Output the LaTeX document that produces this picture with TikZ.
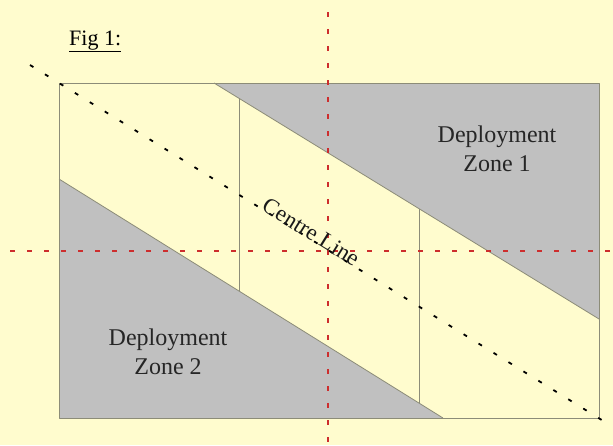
\documentclass[tikz,border=0pt]{standalone}
\usepackage{fontspec}
\setmainfont{Liberation Serif}
\definecolor{paper}{RGB}{255,252,206}
\definecolor{zone}{RGB}{192,192,192}
\definecolor{edge}{RGB}{140,140,120}
\definecolor{axisred}{RGB}{205,45,45}
\begin{document}
\begin{tikzpicture}[x=1pt, y=-1pt, line join=round,
    zonetext/.style={align=center, font=\fontsize{24}{29}\selectfont, text=black!85},
    redaxis/.style={axisred, line width=2.2pt, dash pattern=on 5pt off 12pt},
    centreline/.style={black, line width=1.8pt, dash pattern=on 4pt off 13.6pt}]
    \def\xl{59} \def\xr{599} \def\yt{83} \def\yb{418}
    \fill[paper] (0,0) rectangle (613,445);
    \useasboundingbox (0,0) rectangle (613,445);
    % table and deployment zones
    \coordinate (tl) at (\xl,\yt); \coordinate (tr) at (\xr,\yt);
    \coordinate (br) at (\xr,\yb); \coordinate (bl) at (\xl,\yb);
    \fill[zone] (214,\yt) -- (tr) -- (\xr,319) -- cycle;
    \fill[zone] (\xl,179) -- (443,\yb) -- (bl) -- cycle;
    \draw[edge, line width=0.8pt] (tl) rectangle (br);
    \draw[edge, line width=0.8pt] (214,\yt) -- (\xr,319);
    \draw[edge, line width=0.8pt] (\xl,179) -- (443,\yb);
    \draw[edge, line width=0.8pt] (239,98) -- (239,291);
    \draw[edge, line width=0.8pt] (419,209) -- (419,403);
    % middle of the table
    \draw[redaxis] (328,12) -- (328,445);
    \draw[redaxis] (10,251) -- (613,251);
    \coordinate (cs) at (30,65); \coordinate (ce) at (613,427);
    \draw[centreline] (cs) -- (ce);
    \node[font=\fontsize{23}{25}\selectfont, text=black!90, rotate=-31.8] (centre) at (311,232) {Centre Line};
    \node[zonetext] (zone1) at (497,149) {Deployment\\Zone 1};
    \node[zonetext] (zone2) at (168,352) {Deployment\\Zone 2};
    \node[anchor=base west, font=\fontsize{22}{24}\selectfont, inner sep=0pt] (fig) at (69,45) {\underline{Fig 1:}};
\end{tikzpicture}
\end{document}
